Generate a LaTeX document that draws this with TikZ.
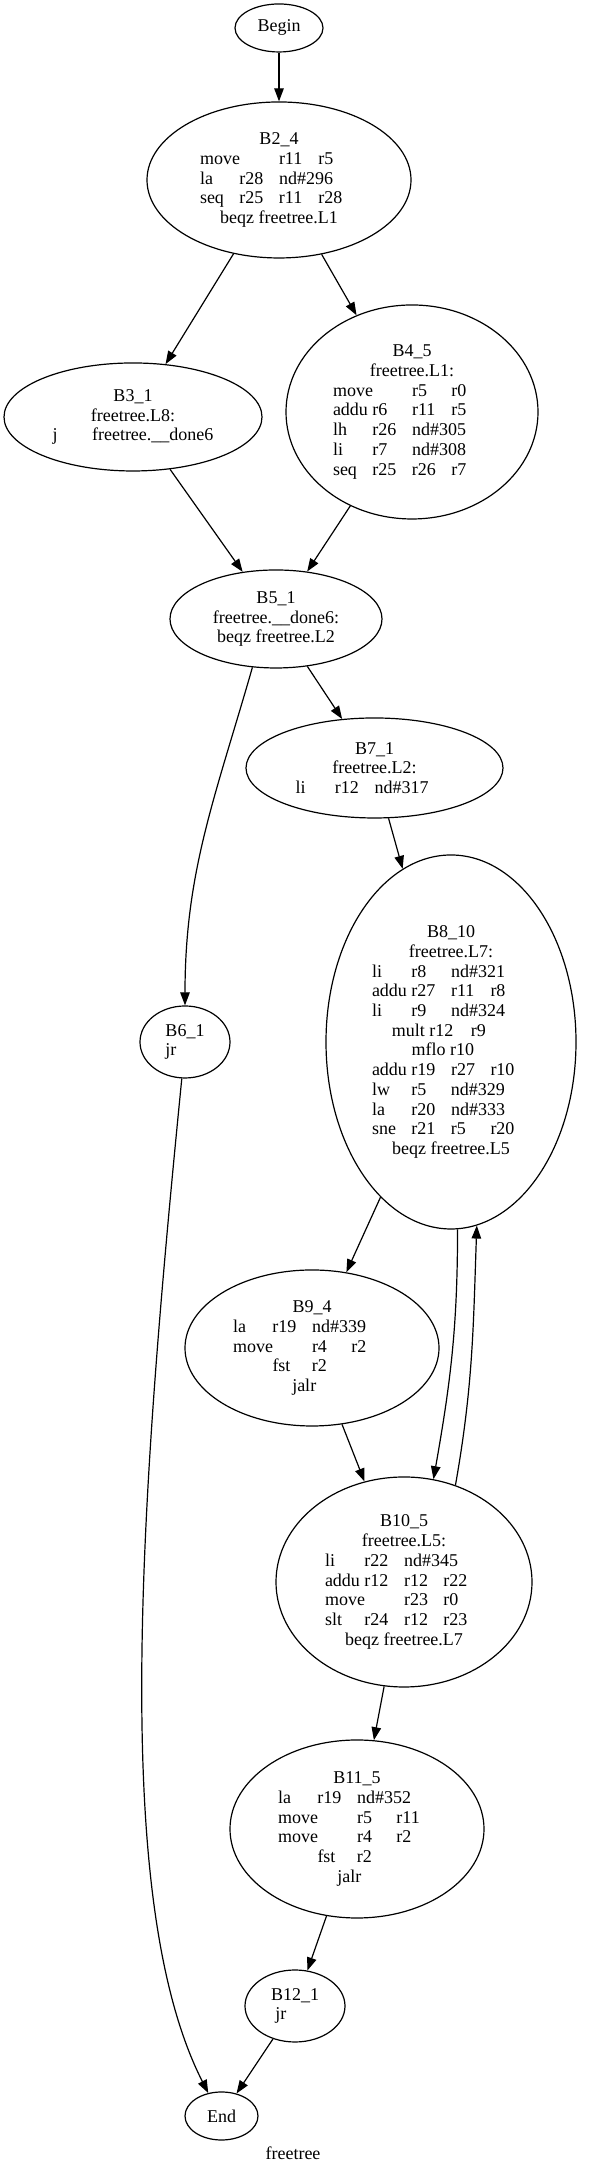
\documentclass[tikz,border=0pt]{standalone}
\usepackage{fontspec}
\setmainfont{Liberation Serif}
\usetikzlibrary{shapes.geometric,arrows.meta}
\newlength\tabw
\setlength\tabw{39.5pt}
\newcommand{\tcell}[2][1]{\makebox[#1\tabw][l]{#2}}
\begin{document}
\begin{tikzpicture}[x=1pt,y=1pt,
  bb/.style={ellipse,draw,line width=1.2pt,inner sep=0pt,align=center,
    font=\fontsize{18}{19.7}\selectfont},
  edge/.style={line width=1.2pt,-{Triangle[length=13pt,width=9.5pt]}}]
\useasboundingbox (0,0) rectangle (589,2175);

\node[bb,minimum width=88pt,minimum height=48pt] (Begin) at (279,2147) {Begin};

\node[bb,minimum width=264pt,minimum height=156pt] (B2_4) at (279,1995)
 {B2\_4\\
  \tcell[2]{move}\tcell{r11}\tcell{r5}\\
  \tcell{la}\tcell{r28}\tcell[2]{nd\#296}\\
  \tcell{seq}\tcell{r25}\tcell{r11}\tcell{r28}\\
  beqz freetree.L1};

\node[bb,minimum width=258pt,minimum height=108pt] (B3_1) at (133,1758)
 {B3\_1\\
  freetree.L8:\\
  \tcell{j}freetree.\_\_done6};

\node[bb,minimum width=252pt,minimum height=214pt] (B4_5) at (412,1763)
 {B4\_5\\
  freetree.L1:\\
  \tcell[2]{move}\tcell{r5}\tcell{r0}\\
  \tcell{addu}\tcell{r6}\tcell{r11}\tcell{r5}\\
  \tcell{lh}\tcell{r26}\tcell[2]{nd\#305}\\
  \tcell{li}\tcell{r7}\tcell[2]{nd\#308}\\
  \tcell{seq}\tcell{r25}\tcell{r26}\tcell{r7}};

\node[bb,minimum width=212pt,minimum height=98pt] (B5_1) at (276,1556)
 {B5\_1\\
  freetree.\_\_done6:\\
  beqz freetree.L2};

\node[bb,minimum width=257pt,minimum height=100pt] (B7_1) at (374.5,1407)
 {B7\_1\\
  freetree.L2:\\
  \tcell{li}\tcell{r12}\tcell[2]{nd\#317}};

\node[bb,minimum width=90pt,minimum height=72pt] (B6_1) at (185,1133)
 {B6\_1\\
  \tcell{jr}};

\node[bb,minimum width=250pt,minimum height=374pt] (B8_10) at (451,1133)
 {B8\_10\\
  freetree.L7:\\
  \tcell{li}\tcell{r8}\tcell[2]{nd\#321}\\
  \tcell{addu}\tcell{r27}\tcell{r11}\tcell{r8}\\
  \tcell{li}\tcell{r9}\tcell[2]{nd\#324}\\
  \tcell[2]{mult r12}\tcell{r9}\\
  \tcell[2]{mflo r10}\\
  \tcell{addu}\tcell{r19}\tcell{r27}\tcell{r10}\\
  \tcell{lw}\tcell{r5}\tcell[2]{nd\#329}\\
  \tcell{la}\tcell{r20}\tcell[2]{nd\#333}\\
  \tcell{sne}\tcell{r21}\tcell{r5}\tcell{r20}\\
  beqz freetree.L5};

\node[bb,minimum width=254pt,minimum height=156pt] (B9_4) at (312,827)
 {B9\_4\\
  \tcell{la}\tcell{r19}\tcell[2]{nd\#339}\\
  \tcell[2]{move}\tcell{r4}\tcell{r2}\\
  \tcell{fst}\tcell{r2}\\
  \tcell{jalr}};

\node[bb,minimum width=256pt,minimum height=210pt] (B10_5) at (404,593)
 {B10\_5\\
  freetree.L5:\\
  \tcell{li}\tcell{r22}\tcell[2]{nd\#345}\\
  \tcell{addu}\tcell{r12}\tcell{r12}\tcell{r22}\\
  \tcell[2]{move}\tcell{r23}\tcell{r0}\\
  \tcell{slt}\tcell{r24}\tcell{r12}\tcell{r23}\\
  beqz freetree.L7};

\node[bb,minimum width=254pt,minimum height=178pt] (B11_5) at (357,346)
 {B11\_5\\
  \tcell{la}\tcell{r19}\tcell[2]{nd\#352}\\
  \tcell[2]{move}\tcell{r5}\tcell{r11}\\
  \tcell[2]{move}\tcell{r4}\tcell{r2}\\
  \tcell{fst}\tcell{r2}\\
  \tcell{jalr}};

\node[bb,minimum width=100pt,minimum height=72pt] (B12_1) at (295,169)
 {B12\_1\\
  \tcell{jr}};

\node[bb,minimum width=73pt,minimum height=48pt] (End) at (221.5,59) {End};

\node[font=\fontsize{18}{19.7}\selectfont,inner sep=0pt] (title) at (293,22) {freetree};

\draw[edge] (Begin) -- (B2_4);
\draw[edge] (B2_4) -- (B3_1);
\draw[edge] (B2_4) -- (B4_5);
\draw[edge] (B3_1) -- (B5_1);
\draw[edge] (B4_5) -- (B5_1);
\draw[edge] (B5_1) -- (B7_1);
\draw[edge] (B5_1.244) to[out=-106,in=90] (B6_1);
\draw[edge] (B7_1) -- (B8_10);
\draw[edge] (B8_10) -- (B9_4);
\draw[edge] (B9_4) -- (B10_5);
\draw[edge] (B8_10.272) to[out=-90,in=80] (B10_5.74);
\draw[edge] (B10_5.62) to[out=80,in=-92] (B8_10.278);
\draw[edge] (B10_5) -- (B11_5);
\draw[edge] (B11_5) -- (B12_1);
\draw[edge] (B12_1) -- (End);
\draw[edge] (B6_1.265) .. controls (140,675) and (110,275) .. (End.120);
\end{tikzpicture}
\end{document}
